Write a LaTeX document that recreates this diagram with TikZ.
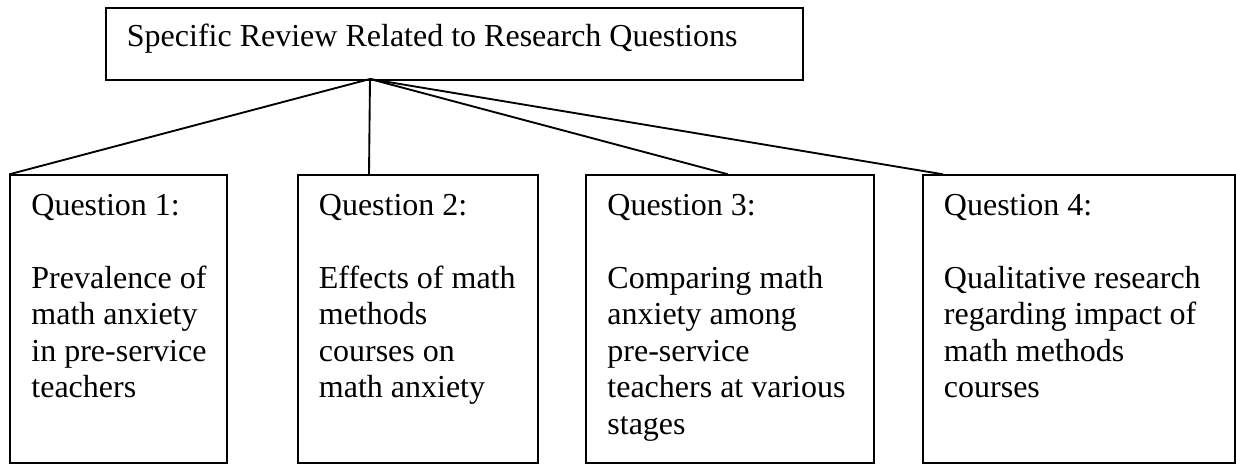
\documentclass[tikz,border=0pt]{standalone}
\usepackage{fontspec}
\setmainfont{Liberation Serif}
\newcommand\pxu{0.375pt}
\begin{document}
\begin{tikzpicture}[x=0.375pt,y=-0.375pt,
  line width=0.7pt,
  boxstyle/.style={draw=black, rectangle, inner sep=0pt, anchor=north west},
  txtstyle/.style={anchor=base west, inner sep=0pt, font=\fontsize{12pt}{13.7pt}\selectfont},
  link/.style={draw=black, line width=0.7pt}]
\useasboundingbox (0,0) rectangle (1236,463);
% top box
\node[boxstyle, minimum width=697*\pxu, minimum height=71.7*\pxu] (top) at (104.7,7.3) {};
\node[txtstyle] (toptxt) at (126,46.7) {Specific Review Related to Research Questions};
% question boxes
\node[boxstyle, minimum width=216.7*\pxu, minimum height=287.7*\pxu] (b1) at (9.3,174.3) {};
\node[boxstyle, minimum width=240.3*\pxu, minimum height=287.7*\pxu] (b2) at (296.7,174.3) {};
\node[boxstyle, minimum width=288.3*\pxu, minimum height=287.7*\pxu] (b3) at (585,174.3) {};
\node[boxstyle, minimum width=312.3*\pxu, minimum height=287.7*\pxu] (b4) at (921.7,174.3) {};
% texts
\node[txtstyle] (t1) at (30.5,215) {\parbox[t]{200pt}{Question 1:\\[13.7pt]Prevalence of\\math anxiety\\in pre-service\\teachers}};
\node[txtstyle] (t2) at (318,215) {\parbox[t]{200pt}{Question 2:\\[13.7pt]Effects of math\\methods\\courses on\\math anxiety}};
\node[txtstyle] (t3) at (606.5,215) {\parbox[t]{200pt}{Question 3:\\[13.7pt]Comparing math\\anxiety among\\pre-service\\teachers at various\\stages}};
\node[txtstyle] (t4) at (943,215) {\parbox[t]{200pt}{Question 4:\\[13.7pt]Qualitative research\\regarding impact of\\math methods\\courses}};
% connector end points
\coordinate (src) at (370,79);
\coordinate (e2) at (369,174.3);
\coordinate (e3) at (728,174.3);
\coordinate (e4) at (943,174.3);
\draw[link] (src) -- (b1.north west);
\draw[link] (src) -- (e2);
\draw[link] (src) -- (e3);
\draw[link] (src) -- (e4);
\end{tikzpicture}
\end{document}
